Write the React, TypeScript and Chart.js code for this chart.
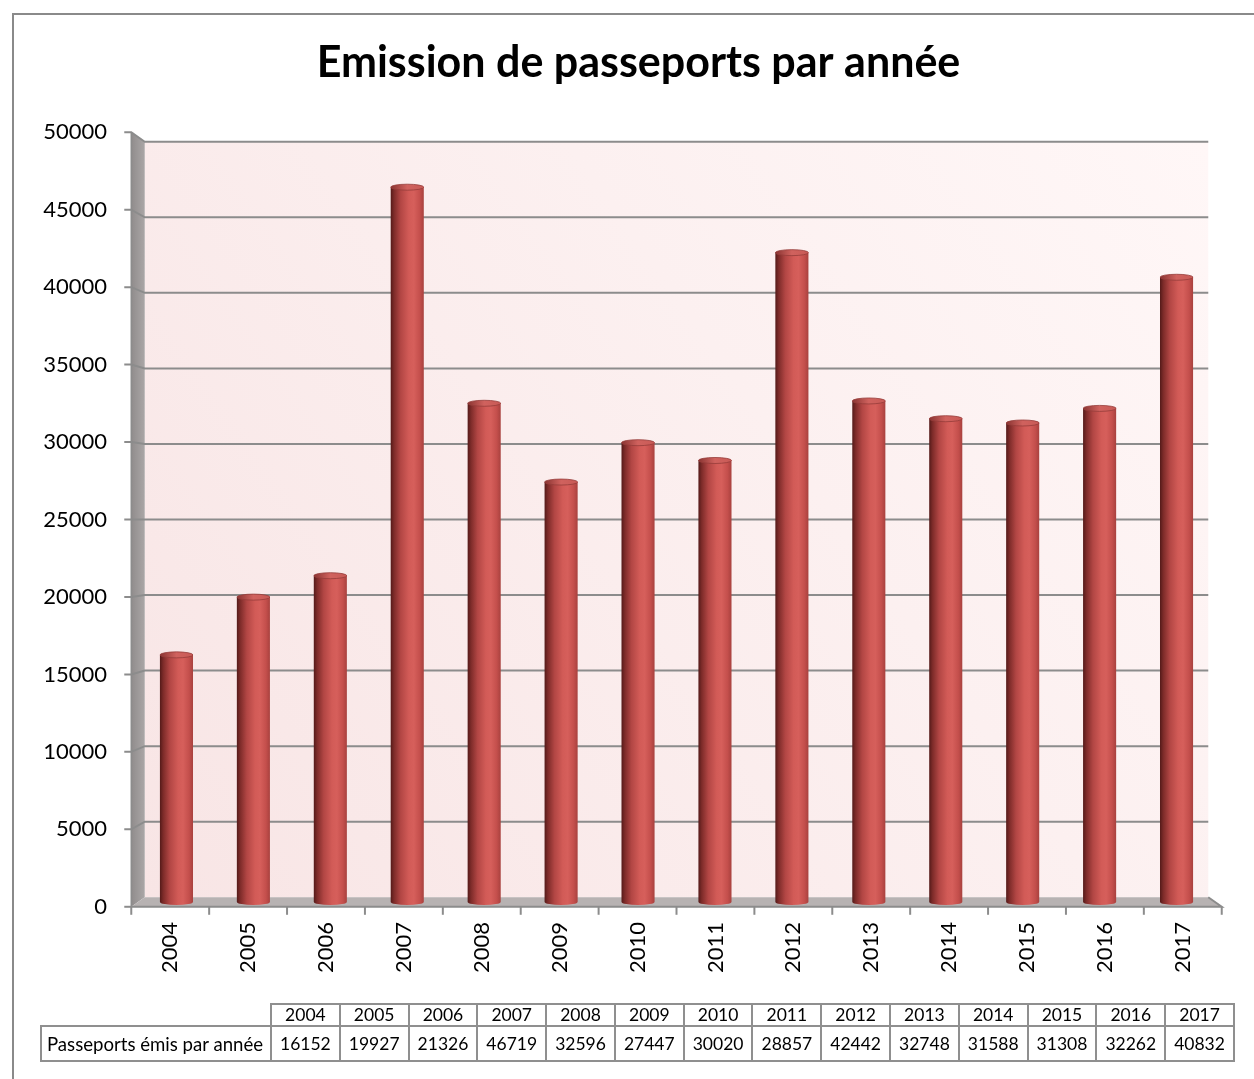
import React, { useEffect, useRef } from 'react';
import { Chart, registerables } from 'chart.js';

Chart.register(...registerables);

// ---------------- data ----------------
const TITLE = 'Emission de passeports par année';
const YEARS = ['2004', '2005', '2006', '2007', '2008', '2009', '2010', '2011', '2012', '2013', '2014', '2015', '2016', '2017'];
const PASSPORTS = [16152, 19927, 21326, 46719, 32596, 27447, 30020, 28857, 42442, 32748, 31588, 31308, 32262, 40832];
const SERIES_LABEL = 'Passeports émis par année';
const Y_TICKS = [0, 5000, 10000, 15000, 20000, 25000, 30000, 35000, 40000, 45000, 50000];
const Y_MAX = 50000;

// ---------------- style / geometry ----------------
const FONT = 'Lato, "Noto Sans", sans-serif';
const K = 0.0125; // perspective depth factor (front / back planes)
const BAR_PCT = 0.43;
const CANVAS_W = 1254;
const CANVAS_H = 1079;
const AREA_BOTTOM = 902;
const N = YEARS.length;

// label axes are mapped to the front plane of the 3D box
const Y_LAB_MIN = (Y_MAX * K) / (2 * (1 + K));
const Y_LAB_MAX = Y_LAB_MIN + Y_MAX / (1 + K);
const X_LAB_MIN = ((N / 2) * K) / (1 + K) - 0.5;
const X_LAB_MAX = X_LAB_MIN + N / (1 + K);

type Area = { left: number; right: number; top: number; bottom: number };

function proj(ca: Area, x: number, y: number, d: number): [number, number] {
  const cx = (ca.left + ca.right) / 2;
  const cy = (ca.top + ca.bottom) / 2;
  const s = 1 - K * d;
  return [cx + (x - cx) * s, cy + (y - cy) * s];
}

function barGradient(ctx: CanvasRenderingContext2D, x: number, w: number) {
  const g = ctx.createLinearGradient(x - w / 2, 0, x + w / 2, 0);
  g.addColorStop(0, '#541a19');
  g.addColorStop(0.1, '#7d2b29');
  g.addColorStop(0.3, '#b24644');
  g.addColorStop(0.55, '#d25b57');
  g.addColorStop(0.7, '#d65f5b');
  g.addColorStop(0.88, '#c44f4c');
  g.addColorStop(1, '#a8413e');
  return g;
}

function capGradient(ctx: CanvasRenderingContext2D, x: number, w: number) {
  const g = ctx.createLinearGradient(x - w / 2, 0, x + w / 2, 0);
  g.addColorStop(0, '#8a3432');
  g.addColorStop(0.5, '#d0625e');
  g.addColorStop(1, '#c85a56');
  return g;
}

const wallsPlugin = {
  id: 'walls3d',
  beforeDraw(chart: any) {
    const { ctx, chartArea: ca, scales } = chart;
    const yb = scales.yBar;
    const L = ca.left, R = ca.right, T = ca.top, B = ca.bottom;
    ctx.save();

    // outer frame (left and top)
    ctx.strokeStyle = '#8a8a8a';
    ctx.lineWidth = 2;
    ctx.beginPath();
    ctx.moveTo(13, chart.height);
    ctx.lineTo(13, 14);
    ctx.lineTo(chart.width, 14);
    ctx.stroke();

    // back wall
    const [bl, bt] = proj(ca, L, T, 1);
    const [br, bb] = proj(ca, R, B, 1);
    const g = ctx.createLinearGradient(bl, bb, br, bt);
    g.addColorStop(0, '#f8e5e5');
    g.addColorStop(0.6, '#fcf0f0');
    g.addColorStop(1, '#fff7f7');
    ctx.fillStyle = g;
    ctx.fillRect(bl, bt, br - bl, bb - bt);

    // side wall
    const ftl = proj(ca, L, T, -1);
    const btl = proj(ca, L, T, 1);
    const bbl = proj(ca, L, B, 1);
    const fbl = proj(ca, L, B, -1);
    const sg = ctx.createLinearGradient(ftl[0], 0, btl[0], 0);
    sg.addColorStop(0, '#908c8c');
    sg.addColorStop(1, '#aaa6a6');
    ctx.fillStyle = sg;
    ctx.beginPath();
    ctx.moveTo(ftl[0], ftl[1]);
    ctx.lineTo(btl[0], btl[1]);
    ctx.lineTo(bbl[0], bbl[1]);
    ctx.lineTo(fbl[0], fbl[1]);
    ctx.closePath();
    ctx.fill();

    // floor
    const fbr = proj(ca, R, B, -1);
    const bbr = proj(ca, R, B, 1);
    ctx.fillStyle = '#b7b2b2';
    ctx.beginPath();
    ctx.moveTo(fbl[0], fbl[1]);
    ctx.lineTo(fbr[0], fbr[1]);
    ctx.lineTo(bbr[0], bbr[1]);
    ctx.lineTo(bbl[0], bbl[1]);
    ctx.closePath();
    ctx.fill();

    // grid lines on back and side walls + ticks
    ctx.strokeStyle = '#8c8c8c';
    ctx.lineWidth = 2;
    Y_TICKS.forEach((v) => {
      const y = yb.getPixelForValue(v);
      const f = proj(ca, L, y, -1);
      const b = proj(ca, L, y, 1);
      const r = proj(ca, R, y, 1);
      ctx.beginPath();
      ctx.moveTo(f[0] - 7, f[1]);
      ctx.lineTo(f[0], f[1]);
      if (v !== 0) {
        ctx.lineTo(b[0], b[1]);
        ctx.lineTo(r[0], r[1]);
      }
      ctx.stroke();
    });

    // front vertical edge of side wall
    ctx.lineWidth = 1.5;
    ctx.strokeStyle = '#8c8c8c';
    ctx.beginPath();
    ctx.moveTo(ftl[0], ftl[1]);
    ctx.lineTo(fbl[0], fbl[1]);
    ctx.stroke();

    // front x axis with ticks and floor right edge
    ctx.lineWidth = 2;
    ctx.beginPath();
    ctx.moveTo(fbl[0], fbl[1]);
    ctx.lineTo(fbr[0], fbr[1]);
    ctx.lineTo(bbr[0], bbr[1]);
    ctx.stroke();
    for (let i = 0; i <= N; i++) {
      const p = proj(ca, L + (i * (R - L)) / N, B, -1);
      ctx.beginPath();
      ctx.moveTo(p[0], p[1]);
      ctx.lineTo(p[0], p[1] + 8);
      ctx.stroke();
    }
    ctx.restore();
  },
  afterDatasetsDraw(chart: any) {
    const { ctx } = chart;
    const meta = chart.getDatasetMeta(0);
    ctx.save();
    meta.data.forEach((bar: any) => {
      const { x, y, width, base } = bar.getProps(['x', 'y', 'width', 'base'], true);
      const rx = width / 2;
      const ry = 3;
      // rounded bottom
      ctx.fillStyle = barGradient(ctx, x, width);
      ctx.beginPath();
      ctx.ellipse(x, base, rx, ry, 0, 0, Math.PI);
      ctx.fill();
      // top cap
      ctx.beginPath();
      ctx.ellipse(x, y, rx, ry, 0, 0, Math.PI * 2);
      ctx.fillStyle = capGradient(ctx, x, width);
      ctx.fill();
      ctx.lineWidth = 1;
      ctx.strokeStyle = 'rgba(150,60,58,0.8)';
      ctx.stroke();
    });
    ctx.restore();
  },
};

export default function App() {
  const canvasRef = useRef<HTMLCanvasElement | null>(null);

  useEffect(() => {
    const canvas = canvasRef.current;
    if (!canvas) return;
    Chart.defaults.font.family = FONT;
    const chart = new Chart(canvas, {
      type: 'bar',
      data: {
        labels: YEARS,
        datasets: [
          {
            label: SERIES_LABEL,
            data: PASSPORTS,
            xAxisID: 'x',
            yAxisID: 'yBar',
            borderWidth: 0,
            categoryPercentage: 1,
            barPercentage: BAR_PCT,
            backgroundColor: (c: any) => {
              const ch = c.chart;
              const xs = ch.scales && ch.scales.x;
              if (!xs || !ch.chartArea || c.dataIndex === undefined) return '#c0504d';
              const x = xs.getPixelForValue(c.dataIndex);
              const w = (xs.width / N) * BAR_PCT;
              return barGradient(ch.ctx, x, w);
            },
          },
        ],
      },
      options: {
        animation: false,
        responsive: false,
        devicePixelRatio: 1,
        layout: { padding: { left: 23, right: 0, top: 0, bottom: 0 } },
        plugins: {
          legend: { display: false },
          tooltip: { enabled: false },
          title: {
            display: true,
            text: TITLE,
            color: '#000',
            font: { family: FONT, size: 43, weight: 'bold', lineHeight: 1.2 },
            padding: { top: 37, bottom: 48.4 },
          },
        },
        scales: {
          x: { type: 'category', display: false, offset: true },
          yBar: {
            type: 'linear',
            position: 'right',
            min: 0,
            max: Y_MAX,
            display: true,
            grid: { display: false, drawTicks: false },
            border: { display: false },
            ticks: { display: false },
            afterFit: (s: any) => {
              s.width = 39;
            },
          },
          y: {
            type: 'linear',
            position: 'left',
            min: Y_LAB_MIN,
            max: Y_LAB_MAX,
            bounds: 'data',
            offset: false,
            grid: { display: false, drawTicks: false },
            border: { display: false },
            afterBuildTicks: (s: any) => {
              s.ticks = Y_TICKS.map((v) => ({ value: v }));
            },
            afterFit: (s: any) => {
              s.width = 115;
            },
            ticks: {
              autoSkip: false,
              padding: 31,
              color: '#000',
              font: { family: FONT, size: 22 },
              callback: (v: any) => String(v),
            },
          },
          xl: {
            type: 'linear',
            position: 'bottom',
            min: X_LAB_MIN,
            max: X_LAB_MAX,
            bounds: 'data',
            offset: false,
            grid: { display: false, drawTicks: false, offset: false },
            border: { display: false },
            afterBuildTicks: (s: any) => {
              s.ticks = YEARS.map((_, i) => ({ value: i }));
            },
            afterFit: (s: any) => {
              s.height = CANVAS_H - AREA_BOTTOM;
            },
            ticks: {
              autoSkip: false,
              minRotation: 90,
              maxRotation: 90,
              padding: 20,
              color: '#000',
              font: { family: FONT, size: 22 },
              callback: (v: any) => (YEARS[v as number] !== undefined ? YEARS[v as number] : ''),
            },
          },
        },
      } as any,
      plugins: [wallsPlugin],
    });
    return () => chart.destroy();
  }, []);

  const cellBorder = '2px solid #8f8f8f';
  const yearW = (1233 - 270) / N;

  return (
    <div style={{ position: 'absolute', left: 0, top: 0, width: CANVAS_W, height: CANVAS_H, background: '#fff', overflow: 'hidden' }}>
      <canvas ref={canvasRef} width={CANVAS_W} height={CANVAS_H} style={{ display: 'block', width: CANVAS_W, height: CANVAS_H }} />
      <table
        style={{
          position: 'absolute',
          left: 40,
          top: 1003,
          borderCollapse: 'collapse',
          tableLayout: 'fixed',
          width: 1193,
          fontFamily: FONT,
          fontSize: 17.5,
          color: '#000',
        }}
      >
        <colgroup>
          <col style={{ width: 230 }} />
          {YEARS.map((y) => (
            <col key={y} style={{ width: yearW }} />
          ))}
        </colgroup>
        <tbody>
          <tr style={{ height: 22 }}>
            <td style={{ border: 'none', padding: 0 }} />
            {YEARS.map((y) => (
              <td key={y} style={{ border: cellBorder, textAlign: 'center', padding: 0, lineHeight: '18px' }}>
                {y}
              </td>
            ))}
          </tr>
          <tr style={{ height: 35 }}>
            <td style={{ border: cellBorder, textAlign: 'left', padding: '0 0 0 5px', lineHeight: '30px', whiteSpace: 'nowrap', fontSize: 18.6 }}>
              {SERIES_LABEL}
            </td>
            {PASSPORTS.map((v, i) => (
              <td key={YEARS[i]} style={{ border: cellBorder, textAlign: 'center', padding: 0, lineHeight: '30px' }}>
                {v}
              </td>
            ))}
          </tr>
        </tbody>
      </table>
    </div>
  );
}
